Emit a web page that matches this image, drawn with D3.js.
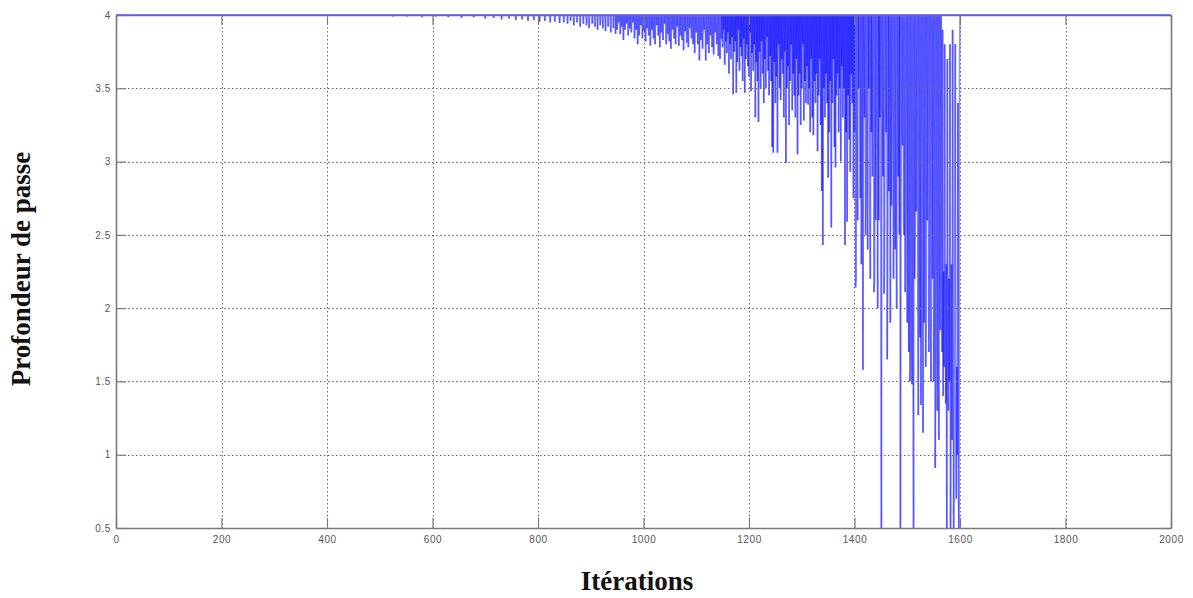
<!DOCTYPE html>
<html><head><meta charset="utf-8">
<script src="https://cdn.jsdelivr.net/npm/d3@7/dist/d3.min.js"></script>
<style>body{margin:0;background:#fff}svg{display:block}</style>
</head><body>
<svg id="chart" width="1193" height="598"></svg>
<script>
// ---------- data ----------
const xTicks = [0, 200, 400, 600, 800, 1000, 1200, 1400, 1600, 1800, 2000];
const yTicks = [0.5, 1, 1.5, 2, 2.5, 3, 3.5, 4];
const xLabel = "Itérations";
const yLabel = "Profondeur de passe";
const iterMax = 2000;
const baseValue = 4;   // value held between the dips
// [iteration, value] pairs of the dips below 4
const dipsA = [[495,3.995],[525,3.99],[552,3.99],[580,3.985],[606,3.99],[630,3.985],[655,3.98],[678,3.985],[700,3.975],[716,3.98],[731,3.97],[745,3.975],[758,3.965],[770,3.97],[781,3.96],[792,3.965],[803,3.955],[813,3.96],[823,3.95],[832,3.955],[841,3.945],[849,3.95]];
const dipsB = [[856,3.94],[862,3.96],[868,3.93],[874,3.95],[880,3.92],[886,3.94],[892,3.93],[897,3.91],[903,3.94],[908,3.92],[913,3.9],[918,3.93],[923,3.91],[928,3.89],[933,3.92],[938,3.88],[943,3.91],[947,3.87]];
const dipsC = [[950,3.9],[953,3.95],[956,3.87],[959,3.92],[962,3.83],[965,3.9],[968,3.94],[971,3.86],[974,3.91],[977,3.88],[980,3.95],[983,3.84],[986,3.9],[989,3.8],[992,3.86],[995,3.93],[998,3.84],[1001,3.89],[1004,3.82],[1007,3.91],[1010,3.86],[1013,3.79],[1016,3.9],[1019,3.84],[1022,3.8],[1025,3.93],[1028,3.86],[1031,3.78],[1034,3.88],[1037,3.83],[1040,3.94],[1043,3.8],[1046,3.87],[1049,3.82],[1052,3.77],[1055,3.9],[1058,3.84],[1061,3.8],[1064,3.92],[1067,3.79],[1070,3.86],[1073,3.83],[1076,3.76],[1079,3.89],[1082,3.81],[1085,3.78],[1088,3.91],[1091,3.84],[1094,3.8],[1097,3.74],[1100,3.88],[1103,3.8],[1106,3.69],[1109,3.83],[1112,3.77],[1115,3.9],[1118,3.69],[1121,3.8],[1124,3.74],[1127,3.86],[1130,3.78],[1133,3.73],[1136,3.88],[1139,3.8],[1142,3.72],[1145,3.7],[1148,3.84]];
const dipsD = [[1150,3.78],[1152,3.9],[1154,3.66],[1156,3.82],[1158,3.74],[1160,3.88],[1162,3.6],[1164,3.8],[1166,3.7],[1168,3.85],[1170,3.46],[1172,3.75],[1174,3.82],[1176,3.47],[1178,3.68],[1180,3.9],[1182,3.62],[1184,3.78],[1186,3.72],[1188,3.55],[1190,3.84],[1192,3.47],[1194,3.7],[1196,3.8],[1198,3.65],[1200,3.58],[1202,3.88],[1204,3.48],[1206,3.74],[1208,3.62],[1210,3.8],[1212,3.3],[1214,3.68],[1216,3.55],[1218,3.27],[1220,3.75],[1222,3.5],[1224,3.82],[1226,3.6],[1228,3.4],[1230,3.7],[1232,3.5],[1234,3.85],[1236,3.62],[1238,3.45],[1240,3.72],[1242,3.55],[1244,3.1],[1246,3.06],[1248,3.68],[1250,3.4],[1252,3.58],[1254,3.06],[1256,3.8],[1258,3.5],[1260,3.42],[1262,3.7],[1264,3.6],[1266,3.3],[1268,3.75],[1270,2.99],[1272,3.5],[1274,3.65],[1276,3.25],[1278,3.55],[1280,3.8],[1282,3.35],[1284,3.6],[1286,3.45],[1288,3.3],[1290,3.7]];
const dipsE = [[1292,3.05],[1294,3.45],[1296,3.6],[1298,3.25],[1300,3.5],[1302,3.8],[1304,3.28],[1306,3.55],[1308,3.4],[1310,3.65],[1312,3.39],[1314,3.5],[1316,3.2],[1318,3.7],[1320,3.3],[1322,3.18],[1324,3.55],[1326,3.4],[1328,3.6],[1330,3.07],[1332,3.45],[1334,3.7],[1336,3.25],[1338,2.8],[1340,2.43],[1342,3.5],[1344,3.3],[1346,3.6],[1348,3.4],[1350,2.89],[1352,3.2],[1354,3.55],[1356,2.55],[1358,3.4],[1360,3.7],[1362,3.1],[1364,2.96],[1366,3.45],[1368,3.6],[1370,3.2],[1372,3.5],[1374,3.0],[1376,3.65],[1378,3.3],[1380,3.5],[1382,2.43],[1384,3.2],[1386,2.59],[1388,3.45],[1390,3.15],[1392,2.93],[1394,3.6],[1396,3.4],[1398,2.75]];
const dipsF = [[1400,3.2],[1402,2.14],[1403,2.2],[1405,2.9],[1406,2.6],[1408,3.5],[1410,3.4],[1411,2.75],[1413,2.3],[1414,3.1],[1416,1.58],[1418,3.6],[1419,3.3],[1421,2.5],[1422,2.8],[1424,3.05],[1425,2.4],[1427,3.5],[1429,2.7],[1430,2.2],[1432,3.2],[1434,2.9],[1435,3.6],[1437,2.11],[1438,2.2],[1440,2.6],[1441,3.4],[1443,3.0],[1444,2.0],[1446,2.6],[1448,3.3],[1450,2.5],[1451,0.3],[1453,3.5],[1454,2.9],[1456,2.1],[1457,2.34],[1459,3.6],[1460,3.2],[1462,1.65],[1463,2.3],[1465,2.8],[1467,3.6],[1468,1.9],[1470,2.7],[1471,3.4],[1473,3.1],[1474,2.2],[1476,3.3],[1477,2.4],[1479,2.62],[1480,2.0],[1482,3.45],[1483,2.9],[1485,2.5],[1487,0.3],[1488,2.2]];
const dipsG = [[1490,3.2],[1491,3.11],[1493,2.6],[1494,2.5],[1496,2.11],[1497,2.8],[1499,3.3],[1500,1.9],[1502,2.3],[1503,1.7],[1505,1.5],[1506,1.6],[1508,2.0],[1509,1.48],[1511,1.7],[1512,0.3],[1514,2.2],[1515,2.5],[1517,2.66],[1518,3.3],[1520,2.2],[1521,1.27],[1523,2.4],[1524,1.8],[1526,1.34],[1527,3.0],[1529,2.1],[1530,1.15],[1532,1.9],[1533,2.7],[1535,1.6],[1536,2.02],[1538,2.6],[1539,3.2],[1541,1.7],[1542,2.6],[1544,2.4],[1545,1.5],[1547,3.0],[1548,2.2],[1550,1.5],[1551,1.9],[1553,0.91],[1554,1.6],[1556,2.5],[1557,1.3],[1559,2.0],[1560,1.1],[1562,1.9],[1563,1.85],[1565,2.2],[1566,1.7],[1567,3.9],[1568,1.4],[1569,2.25],[1570,1.6],[1571,3.8],[1572,2.1],[1573,1.35],[1574,2.3],[1575,0.3],[1576,3.7],[1577,1.9],[1578,1.3],[1579,2.2],[1580,1.5],[1581,3.8],[1582,0.3],[1583,1.7],[1584,2.3],[1585,1.1],[1586,3.9],[1587,1.9],[1588,0.3],[1589,1.5],[1590,2.2],[1591,3.8],[1592,1.2],[1593,0.7],[1594,1.6],[1595,1.0],[1596,3.4],[1597,0.9],[1598,0.3],[1599,3.6]];

// ---------- build series ----------
const values = d3.range(iterMax + 1).map(() => baseValue);
[dipsA, dipsB, dipsC, dipsD, dipsE, dipsF, dipsG].forEach(arr => arr.forEach(([i, v]) => { values[i] = v; }));
const segments = d3.pairs(values.map((v, i) => ({ i, v })));

// ---------- layout ----------
const svg = d3.select("#chart");
const L = 116, R = 1171, T = 15, B = 528;
const x = d3.scaleLinear().domain([0, 2000]).range([L, R]);
const y = d3.scaleLinear().domain([0.5, 4]).range([B, T]);
const gray = "#7a7a7a";

svg.append("defs").append("clipPath").attr("id", "clip")
  .append("rect").attr("x", L).attr("y", T - 1).attr("width", R - L).attr("height", B - T + 1);

// data line, drawn segment by segment so that overlaps darken as in the original
svg.append("g").attr("clip-path", "url(#clip)")
  .attr("stroke", "#0000ff").attr("stroke-width", 1.7).attr("stroke-opacity", 0.42).attr("stroke-linecap", "butt")
  .selectAll("line").data(segments.filter(([a, b]) => !(a.v === baseValue && b.v === baseValue))).join("line")
  .attr("x1", d => x(d[0].i)).attr("y1", d => y(d[0].v))
  .attr("x2", d => x(d[1].i)).attr("y2", d => y(d[1].v));

// grid (drawn on top, dotted)
const grid = svg.append("g").attr("stroke", "#6a6a6a").attr("stroke-width", 1).attr("stroke-dasharray", "1.5,2.5");
grid.selectAll("line.gx").data(xTicks.slice(1, -1)).join("line")
  .attr("x1", d => Math.round(x(d)) + 0.5).attr("x2", d => Math.round(x(d)) + 0.5).attr("y1", T).attr("y2", B);
grid.selectAll("line.gy").data(yTicks.slice(1, -1)).join("line")
  .attr("y1", d => Math.round(y(d)) + 0.5).attr("y2", d => Math.round(y(d)) + 0.5).attr("x1", L).attr("x2", R);

// axes
const tickLen = 10;
const fmt = d => String(d);
const axB = svg.append("g").attr("transform", `translate(0,${B})`)
  .call(d3.axisBottom(x).tickValues(xTicks).tickFormat(fmt).tickSizeInner(-tickLen).tickSizeOuter(0).tickPadding(8));
const axL = svg.append("g").attr("transform", `translate(${L},0)`)
  .call(d3.axisLeft(y).tickValues(yTicks).tickFormat(fmt).tickSizeInner(-tickLen).tickSizeOuter(0).tickPadding(5));
const axT = svg.append("g").attr("transform", `translate(0,${T})`)
  .call(d3.axisTop(x).tickValues(xTicks).tickFormat("").tickSizeInner(-tickLen).tickSizeOuter(0));
const axR = svg.append("g").attr("transform", `translate(${R},0)`)
  .call(d3.axisRight(y).tickValues(yTicks).tickFormat("").tickSizeInner(-tickLen).tickSizeOuter(0));
[axB, axL, axT, axR].forEach(g => {
  g.select(".domain").attr("stroke", gray).attr("stroke-width", 1.6);
  g.selectAll(".tick line").attr("stroke", gray).attr("stroke-width", 1.2);
  g.selectAll(".tick text").attr("fill", "#555").attr("font-family", "Liberation Sans, Arial, sans-serif")
    .attr("font-size", 10).attr("letter-spacing", 0.6);
});

// line at value 4 across the whole run (covers the top frame like in the original)
svg.append("line").attr("x1", x(0)).attr("x2", x(iterMax)).attr("y1", y(baseValue)).attr("y2", y(baseValue))
  .attr("stroke", "#5a5aff").attr("stroke-width", 1.3);

// titles
svg.append("text").attr("x", 637).attr("y", 590).attr("text-anchor", "middle")
  .attr("font-family", "Liberation Serif, Times New Roman, serif").attr("font-weight", "bold").attr("font-size", 27)
  .attr("fill", "#111").text(xLabel);
svg.append("text").attr("transform", "translate(30,269) rotate(-90)").attr("text-anchor", "middle")
  .attr("font-family", "Liberation Serif, Times New Roman, serif").attr("font-weight", "bold").attr("font-size", 27)
  .attr("fill", "#111").text(yLabel);
</script>
</body></html>
